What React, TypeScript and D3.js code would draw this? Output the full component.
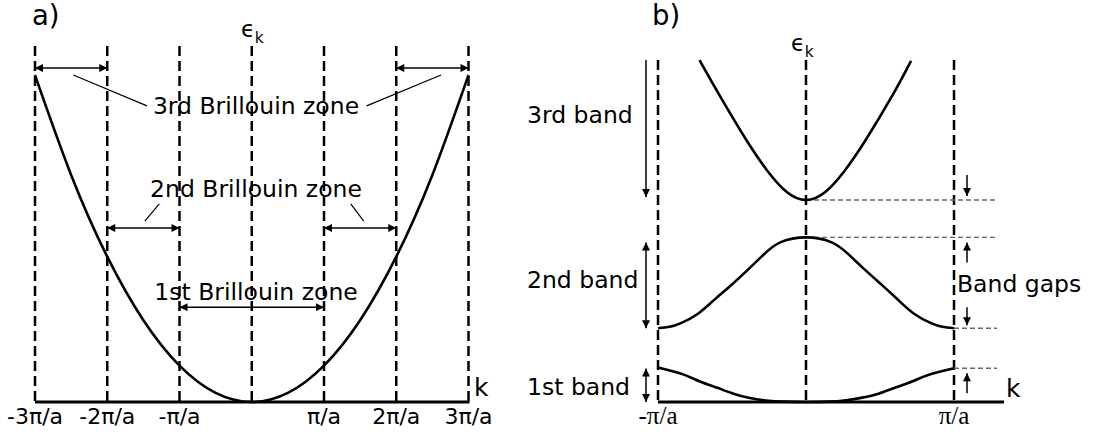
import React from "react";
import * as d3 from "d3";

// ---------- Panel a data: free-electron parabola (k in units of π/a) ----------
const zoneBoundsA = [-3, -2, -1, 0, 1, 2, 3];
const tickLabelsA = ["-3π/a", "-2π/a", "-π/a", "", "π/a", "2π/a", "3π/a"];
const freeK = [-3, -2.5, -2, -1.5, -1, -0.5, 0, 0.5, 1, 1.5, 2, 2.5, 3];
const freeE = [9, 6.25, 4, 2.25, 1, 0.25, 0, 0.25, 1, 2.25, 4, 6.25, 9];

// Brillouin-zone annotations (k from, k to, energy level of arrow)
const zoneArrows = [
  { k0: -3, k1: -2, e: 9.19 },
  { k0: 2, k1: 3, e: 9.19 },
  { k0: -2, k1: -1, e: 4.79 },
  { k0: 1, k1: 2, e: 4.79 },
  { k0: -1, k1: 1, e: 2.61 },
];
const zoneLabels = ["3rd Brillouin zone", "2nd Brillouin zone", "1st Brillouin zone"];
const zoneLabelE = [7.92, 5.63, 2.82];
const leaderLines = [
  { k0: -2.47, e0: 9.0, k1: -1.45, e1: 8.15 },
  { k0: 1.59, e0: 8.15, k1: 2.62, e1: 9.0 },
  { k0: -1.48, e0: 4.98, k1: -1.28, e1: 5.45 },
  { k0: 1.37, e0: 5.45, k1: 1.55, e1: 4.98 },
];

// ---------- Panel b data: reduced-zone bands ----------
const zoneBoundsB = [-1, 0, 1];
const tickLabelsB = ["-π/a", "", "π/a"];
const band1K = [-1, -0.83, -0.72, -0.6, -0.49, -0.38, -0.27, -0.15, 0, 0.15, 0.27, 0.38, 0.49, 0.6, 0.72, 0.83, 1];
const band1E = [0.95, 0.76, 0.57, 0.39, 0.23, 0.11, 0.04, 0.01, 0, 0.01, 0.05, 0.12, 0.23, 0.39, 0.57, 0.75, 0.93];
const band2K = [-1, -0.92, -0.845, -0.73, -0.62, -0.51, -0.39, -0.28, -0.17, 0, 0.17, 0.28, 0.39, 0.51, 0.62, 0.73, 0.845, 0.92, 1];
const band2E = [2.03, 2.07, 2.17, 2.43, 2.81, 3.2, 3.65, 4.08, 4.4, 4.53, 4.4, 4.09, 3.67, 3.23, 2.82, 2.43, 2.17, 2.07, 2.03];
const band3K = [-0.72, -0.58, -0.4, -0.26, -0.13, 0, 0.13, 0.26, 0.4, 0.58, 0.71];
const band3E = [9.41, 8.41, 7.19, 6.36, 5.78, 5.56, 5.78, 6.36, 7.19, 8.41, 9.39];
const bandLabels = ["3rd band", "2nd band", "1st band"];

const W = 1096;
const H = 434;
const FONT = "DejaVu Sans, Verdana, sans-serif";
const SERIF = "Liberation Serif, DejaVu Serif, serif";

export default function App() {
  const xA = d3.scaleLinear().domain([-3, 3]).range([35, 468.5]);
  const y = d3.scaleLinear().domain([0, 9]).range([402, 75]);
  const xB = d3.scaleLinear().domain([-1, 1]).range([658, 954]);
  const axisY = y(0);

  const lineA = d3
    .line<number>()
    .x((_, i) => xA(freeK[i]))
    .y((e) => y(e))
    .curve(d3.curveNatural);

  const bandLine = (ks: number[]) =>
    d3
      .line<number>()
      .x((_, i) => xB(ks[i]))
      .y((e) => y(e))
      .curve(d3.curveNatural);

  const b1 = bandLine(band1K)(band1E) || "";
  const b2 = bandLine(band2K)(band2E) || "";
  const b3 = bandLine(band3K)(band3E) || "";

  const band3Min = d3.min(band3E)!;
  const band2Max = d3.max(band2E)!;
  const band2Right = band2E[band2E.length - 1];
  const band1Right = band1E[band1E.length - 1];
  const band1Top = d3.max([band1E[0], band1Right])!;

  const gapLineEnd = 997;
  const gapLines = [
    { x0: xB(0), e: band3Min },
    { x0: xB(0), e: band2Max },
    { x0: xB(1), e: band2Right },
    { x0: xB(1), e: band1Right },
  ];
  const gapArrowX = 967;
  const gapArrows = [
    { from: y(band3Min) - 25, to: y(band3Min) - 4 },
    { from: y(band2Max) + 25, to: y(band2Max) + 5 },
    { from: y(band2Right) - 21, to: y(band2Right) - 3 },
    { from: y(band1Right) + 25, to: y(band1Right) + 5 },
  ];

  const dashTopA = 46;
  const dashTopB = 60;

  return (
    <svg
      width={W}
      height={H}
      viewBox={`0 0 ${W} ${H}`}
      style={{ position: "absolute", left: 0, top: 0, background: "#fff" }}
      fontFamily={FONT}
    >
      <defs>
        <marker
          id="ah"
          viewBox="0 0 10 10"
          refX="10"
          refY="5"
          markerWidth="9"
          markerHeight="8"
          orient="auto-start-reverse"
          markerUnits="userSpaceOnUse"
        >
          <path d="M0,0 L10,5 L0,10 z" fill="#000" />
        </marker>
      </defs>
      <rect x={0} y={0} width={W} height={H} fill="#fff" />

      {/* ================= Panel a ================= */}
      <text x={32} y={25} fontSize={27.5}>a)</text>
      {zoneBoundsA.map((k) => (
        <line
          key={"va" + k}
          x1={xA(k)}
          x2={xA(k)}
          y1={dashTopA}
          y2={axisY}
          stroke="#000"
          strokeWidth={2.5}
          strokeDasharray="10,5"
        />
      ))}
      <line x1={xA(-3)} x2={xA(3) + 1} y1={axisY} y2={axisY} stroke="#000" strokeWidth={3} />
      <path d={lineA(freeE) || ""} fill="none" stroke="#000" strokeWidth={2.6} />

      {zoneArrows.map((a, i) => (
        <line
          key={"za" + i}
          x1={xA(a.k0)}
          x2={xA(a.k1)}
          y1={y(a.e)}
          y2={y(a.e)}
          stroke="#000"
          strokeWidth={1.5}
          markerStart="url(#ah)"
          markerEnd="url(#ah)"
        />
      ))}
      {leaderLines.map((l, i) => (
        <line
          key={"ll" + i}
          x1={xA(l.k0)}
          y1={y(l.e0)}
          x2={xA(l.k1)}
          y2={y(l.e1)}
          stroke="#000"
          strokeWidth={1.2}
        />
      ))}
      {zoneLabels.map((t, i) => (
        <text key={"zl" + i} x={256} y={y(zoneLabelE[i])} fontSize={23.5} textAnchor="middle">
          {t}
        </text>
      ))}

      <text x={241} y={37} fontSize={22.5}>
        ϵ<tspan fontSize={15.5} dy={6}>k</tspan>
      </text>
      <text x={474} y={396} fontSize={25}>k</text>
      {zoneBoundsA.map((k, i) =>
        tickLabelsA[i] ? (
          <text key={"ta" + k} x={xA(k)} y={424} fontSize={22} textAnchor="middle">
            {tickLabelsA[i]}
          </text>
        ) : null
      )}

      {/* ================= Panel b ================= */}
      <text x={652} y={25} fontSize={27.5}>b)</text>
      {zoneBoundsB.map((k) => (
        <line
          key={"vb" + k}
          x1={xB(k)}
          x2={xB(k)}
          y1={dashTopB}
          y2={axisY}
          stroke="#000"
          strokeWidth={2.5}
          strokeDasharray="10,5"
        />
      ))}
      <line x1={xB(-1)} x2={1004} y1={axisY} y2={axisY} stroke="#000" strokeWidth={3} />

      {gapLines.map((g, i) => (
        <line
          key={"gl" + i}
          x1={g.x0}
          x2={gapLineEnd}
          y1={y(g.e)}
          y2={y(g.e)}
          stroke="#666"
          strokeWidth={1.4}
          strokeDasharray="5,3"
        />
      ))}

      <path d={b1} fill="none" stroke="#000" strokeWidth={2.6} />
      <path d={b2} fill="none" stroke="#000" strokeWidth={2.6} />
      <path d={b3} fill="none" stroke="#000" strokeWidth={2.6} />

      {gapArrows.map((g, i) => (
        <line
          key={"ga" + i}
          x1={gapArrowX}
          x2={gapArrowX}
          y1={g.from}
          y2={g.to}
          stroke="#000"
          strokeWidth={1.5}
          markerEnd="url(#ah)"
        />
      ))}
      <text x={957} y={292} fontSize={23.5}>Band gaps</text>

      {/* band range arrows */}
      <line x1={646} x2={646} y1={dashTopB} y2={y(band3Min) - 3} stroke="#000" strokeWidth={1.5} markerEnd="url(#ah)" />
      <line
        x1={646}
        x2={646}
        y1={y(band2Max) + 5}
        y2={y(band2Right)}
        stroke="#000"
        strokeWidth={1.5}
        markerStart="url(#ah)"
        markerEnd="url(#ah)"
      />
      <line
        x1={646}
        x2={646}
        y1={y(band1Top) + 1}
        y2={axisY}
        stroke="#000"
        strokeWidth={1.5}
        markerStart="url(#ah)"
        markerEnd="url(#ah)"
      />
      <text x={527} y={123} fontSize={23.5}>{bandLabels[0]}</text>
      <text x={527} y={288} fontSize={23.5}>{bandLabels[1]}</text>
      <text x={527} y={395} fontSize={23.5}>{bandLabels[2]}</text>

      <text x={791} y={51} fontSize={22.5}>
        ϵ<tspan fontSize={15.5} dy={6}>k</tspan>
      </text>
      <text x={1006} y={397} fontSize={25}>k</text>
      {zoneBoundsB.map((k, i) =>
        tickLabelsB[i] ? (
          <text key={"tb" + k} x={xB(k)} y={424} fontSize={25} textAnchor="middle" fontFamily={SERIF}>
            {tickLabelsB[i]}
          </text>
        ) : null
      )}
    </svg>
  );
}
